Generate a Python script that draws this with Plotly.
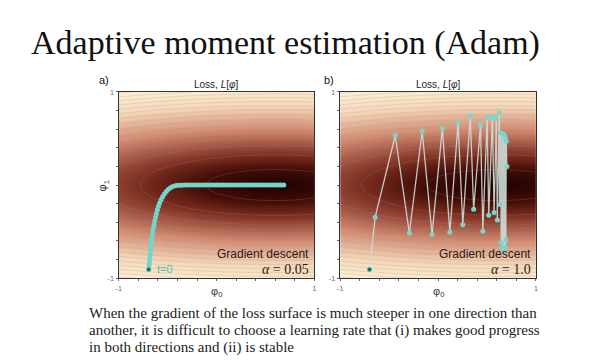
import numpy as np
import plotly.graph_objects as go

# ---- data ----
path_a_x = [-0.694, -0.690, -0.686, -0.683, -0.680, -0.677, -0.673, -0.669, -0.664, -0.659,
            -0.653, -0.647, -0.640, -0.632, -0.624, -0.615, -0.605, -0.594, -0.582, -0.568,
            -0.552, -0.534, -0.514, -0.492, -0.468, -0.442, -0.414,
            -0.385, -0.355, -0.325, -0.295, -0.265, -0.235, -0.205, -0.175, -0.145, -0.115,
            -0.085, -0.055, -0.025, 0.005, 0.035, 0.065, 0.095, 0.125, 0.155, 0.185,
            0.215, 0.245, 0.275, 0.305, 0.335, 0.365, 0.395, 0.425, 0.455, 0.485,
            0.515, 0.545, 0.575, 0.605, 0.635, 0.660, 0.687]
path_a_y = [-0.906, -0.865, -0.825, -0.785, -0.745, -0.705, -0.665, -0.625, -0.585, -0.545,
            -0.505, -0.465, -0.425, -0.385, -0.345, -0.305, -0.265, -0.228, -0.192, -0.158,
            -0.126, -0.096, -0.070, -0.046, -0.027, -0.013, -0.005,
            -0.002, -0.001, 0.0, 0.0, 0.0, 0.0, 0.0, 0.0, 0.0, 0.0,
            0.0, 0.0, 0.0, 0.0, 0.0, 0.0, 0.0, 0.0, 0.0, 0.0,
            0.0, 0.0, 0.0, 0.0, 0.0, 0.0, 0.0, 0.0, 0.0, 0.0,
            0.0, 0.0, 0.0, 0.0, 0.0, 0.0, 0.0]

path_b_x = [-0.700, -0.643, -0.437, -0.293, -0.162, -0.061, 0.044, 0.121, 0.205, 0.253,
            0.330, 0.364, 0.434, 0.458, 0.502, 0.518, 0.556, 0.573, 0.596, 0.606,
            0.626, 0.630, 0.641, 0.645, 0.657, 0.660, 0.670, 0.673, 0.683, 0.686,
            0.690, 0.693, 0.697, 0.704]
path_b_y = [-0.906, -0.347, 0.532, -0.515, 0.578, -0.532, 0.609, -0.508, 0.672, -0.427,
            0.741, -0.260, 0.644, -0.497, 0.725, -0.323, 0.731, -0.295, 0.707, -0.375,
            0.777, -0.210, 0.560, -0.620, 0.555, -0.670, 0.545, -0.705, 0.530, -0.670,
            0.500, -0.590, 0.470, 0.200]

tick_vals = [-1.0, 1.0]
tick_text = ["-1", "1"]

caption_lines = ["When the gradient of the loss surface is much steeper in one direction than",
                 "another, it is difficult to choose a learning rate that (i) makes good progress",
                 "in both directions and (ii) is stable"]

# ---- loss surface ----
gx = np.linspace(-1, 1, 161)
gy = np.linspace(-1, 1, 161)
X, Y = np.meshgrid(gx, gy)
L = 0.5 * (X - 0.6) ** 2 + 9.0 * Y ** 2
Zc = np.sqrt(L)

cscale = [[0.0, '#1c0201'], [0.10, '#340804'], [0.17, '#430e07'], [0.28, '#70271b'],
          [0.36, '#8f4031'], [0.56, '#d08a70'], [0.80, '#f5d7b9'], [1.0, '#fdf0d6']]

fig = go.Figure()
for xa, ya in [('x', 'y'), ('x2', 'y2')]:
    fig.add_trace(go.Heatmap(x=gx, y=gy, z=Zc, colorscale=cscale, zmin=0, zmax=3.2,
                             zsmooth='best', showscale=False, xaxis=xa, yaxis=ya,
                             hoverinfo='skip'))
    fig.add_trace(go.Contour(x=gx, y=gy, z=L, xaxis=xa, yaxis=ya, showscale=False,
                             contours=dict(coloring='lines', start=0.25, end=12, size=0.7),
                             colorscale=[[0, 'rgba(160,150,150,0.4)'], [1, 'rgba(160,150,150,0.4)']],
                             line=dict(width=0.6, smoothing=1.3), hoverinfo='skip'))

# panel a path
fig.add_trace(go.Scatter(x=path_a_x, y=path_a_y, mode='lines+markers', xaxis='x', yaxis='y',
                         line=dict(color='#72d6cb', width=2),
                         marker=dict(color='#72d6cb', size=5), hoverinfo='skip'))
fig.add_trace(go.Scatter(x=path_a_x[:1], y=path_a_y[:1], mode='markers', xaxis='x', yaxis='y',
                         marker=dict(color='#0f7a5c', size=4), hoverinfo='skip'))
# panel b path
fig.add_trace(go.Scatter(x=path_b_x, y=path_b_y, mode='lines+markers', xaxis='x2', yaxis='y2',
                         line=dict(color='rgba(205,222,216,0.9)', width=1.3),
                         marker=dict(color='#7ad6cc', size=5), hoverinfo='skip'))
fig.add_trace(go.Scatter(x=path_b_x[:1], y=path_b_y[:1], mode='markers', xaxis='x2', yaxis='y2',
                         marker=dict(color='#0f7a5c', size=4), hoverinfo='skip'))

ax_common = dict(range=[-1, 1], showgrid=False, zeroline=False, showline=True,
                 linecolor='#333', linewidth=1, mirror=True, ticks='outside', ticklen=2,
                 tickcolor='#666', tickvals=tick_vals, ticktext=tick_text,
                 minor=dict(dtick=0.2, tick0=-1, ticks='outside', ticklen=2, tickcolor='#666',
                            showgrid=False),
                 tickfont=dict(size=8, color='#777', family='Liberation Sans'))
y0, y1 = 1 - 273 / 360, 1 - 82 / 360
fig.update_layout(
    width=606, height=360, margin=dict(l=0, r=0, t=0, b=0),
    paper_bgcolor='white', plot_bgcolor='white', showlegend=False,
    xaxis=dict(domain=[108 / 606, 306 / 606], anchor='y', **ax_common),
    yaxis=dict(domain=[y0, y1], anchor='x', **ax_common),
    xaxis2=dict(domain=[332 / 606, 530 / 606], anchor='y2', **ax_common),
    yaxis2=dict(domain=[y0, y1], anchor='x2', **ax_common),
)

def txt(x, y, s, size, color='#222', family='Liberation Sans', xanchor='center', angle=0, yanchor='middle'):
    fig.add_annotation(x=x / 606, y=1 - y / 360, xref='paper', yref='paper', text=s,
                       showarrow=False, font=dict(size=size, color=color, family=family),
                       xanchor=xanchor, yanchor=yanchor, textangle=angle)

txt(17, 32, "Adaptive moment estimation (Adam)", 34, '#111', 'Liberation Serif', 'left')
txt(207, 74, "Loss, <i>L</i>[<i>φ</i>]", 10)
txt(431, 74, "Loss, <i>L</i>[<i>φ</i>]", 10)
txt(86, 70, "a)", 11, '#111', xanchor='left')
txt(314, 70, "b)", 11, '#111', xanchor='left')
txt(92, 178, "φ<sub>1</sub>", 11, '#333', angle=-90)
txt(207, 287, "φ<sub>0</sub>", 11, '#333')
txt(431, 287, "φ<sub>0</sub>", 11, '#333')
txt(302, 248, "Gradient descent", 12, '#2a1a18', xanchor='right')
txt(302, 264, "<i>α</i> = 0.05", 14, '#2a1a18', 'Liberation Serif', 'right')
txt(527, 248, "Gradient descent", 12, '#2a1a18', xanchor='right')
txt(527, 264, "<i>α</i> = 1.0", 14, '#2a1a18', 'Liberation Serif', 'right')
txt(145, 264, "t=0", 11, '#4cc2b2', xanchor='left')

for k, line in enumerate(caption_lines):
    txt(76, 309 + 17.5 * k, line, 15, '#222', 'Liberation Serif', 'left')

fig.write_html("out.html")
